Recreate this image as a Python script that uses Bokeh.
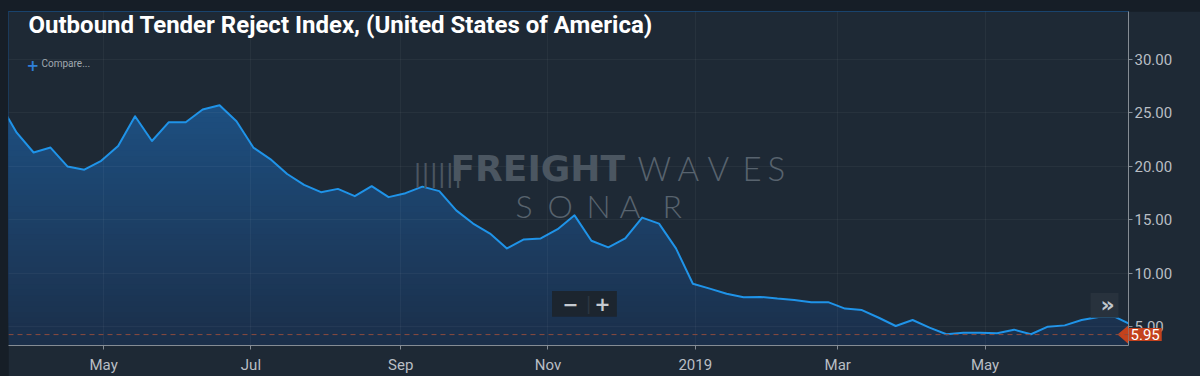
import numpy as np
from datetime import datetime, timedelta
from bokeh.plotting import figure
from bokeh.models import Range1d, LinearAxis, FixedTicker, NumeralTickFormatter, Grid, Span, Label
from bokeh.layouts import column
from bokeh.embed import file_html
from bokeh.resources import INLINE

# ---------------- data ----------------
title_text = "Outbound Tender Reject Index, (United States of America)"
series_start = datetime(2018, 3, 19)  # weekly observations
reject_index = [25.83, 23.12, 21.27, 21.73, 19.97, 19.66, 20.49, 21.88, 24.66, 22.34,
                24.10, 24.10, 25.28, 25.68, 24.19, 21.73, 20.65, 19.26, 18.24, 17.56,
                17.87, 17.19, 18.12, 17.10, 17.47, 18.08, 17.66, 15.86, 14.63, 13.70,
                12.31, 13.15, 13.24, 14.10, 15.40, 13.03, 12.41, 13.24, 15.19, 14.63,
                12.31, 9.01, 8.55, 8.08, 7.75, 7.78, 7.62, 7.50, 7.29, 7.29,
                6.69, 6.55, 5.83, 5.06, 5.62, 4.91, 4.29, 4.44, 4.44, 4.38,
                4.72, 4.29, 5.00, 5.12, 5.62, 5.90, 5.90, 5.13]
x_tick_dates = [datetime(2018, 5, 1), datetime(2018, 7, 1), datetime(2018, 9, 1),
                datetime(2018, 11, 1), datetime(2019, 1, 1), datetime(2019, 3, 1),
                datetime(2019, 5, 1)]
x_tick_labels = ["May", "Jul", "Sep", "Nov", "2019", "Mar", "May"]
y_ticks = [5, 10, 15, 20, 25, 30]
last_value_label = "5.95"
last_value_level = 4.26
view_start = series_start + timedelta(days=3.6)
view_end = series_start + timedelta(days=467.4)
y_min, y_max = 3.24, 34.44

# ---------------- helpers ----------------
EPOCH = datetime(1970, 1, 1)


def to_ms(d):
    return (d - EPOCH).total_seconds() * 1000.0


dates_ms = [to_ms(series_start + timedelta(weeks=i)) for i in range(len(reject_index))]
xs0, xs1 = to_ms(view_start), to_ms(view_end)
x_tick_ms = [to_ms(d) for d in x_tick_dates]

BG = "#1e2935"
DARK = "#161e27"
AXIS = "#858c94"
LABEL = "#b9bec4"
WM = "#4b5661"
WM2 = "#58636e"
MARK = "#c4421d"
FW, FH = 1203, 365          # right border holds axis + value tag panel; overflow is hidden
FRAME_LEFT, FRAME_BOTTOM = 8, 348          # page pixel position of frame
FRAME_W, FRAME_H = 1123, 337
dxp = (xs1 - xs0) / FRAME_W
dyp = (y_max - y_min) / FRAME_H


def px_x(px):
    return xs0 + (px - FRAME_LEFT) * dxp


def px_y(py):
    return y_min + (FRAME_BOTTOM - py) * dyp


def sl(text, px, py, **kw):
    """Label positioned by page pixel (px, py)."""
    return Label(x=px - FRAME_LEFT, y=FRAME_BOTTOM - py, x_units="screen", y_units="screen",
                 text=text, **kw)


p = figure(width=FW, height=FH, x_range=Range1d(xs0, xs1), y_range=Range1d(y_min, y_max),
           x_axis_type=None, y_axis_type=None, output_backend="svg", toolbar_location=None,
           min_border_left=0, min_border_top=0, min_border_right=0, min_border_bottom=28,
           background_fill_color=BG, border_fill_color=BG, outline_line_color=None,
           margin=(11, 0, 0, 8))

# axes
xticker = FixedTicker(ticks=x_tick_ms)
xaxis = LinearAxis(ticker=xticker,
                   major_label_overrides={t: l for t, l in zip(x_tick_ms, x_tick_labels)},
                   axis_line_color=AXIS, major_tick_line_color=AXIS, major_tick_out=4,
                   major_tick_in=0, minor_tick_line_color=None,
                   major_label_text_color=LABEL, major_label_text_font="Roboto",
                   major_label_text_font_size="15px", major_label_standoff=6)
p.add_layout(xaxis, "below")
yticker = FixedTicker(ticks=y_ticks)
yaxis = LinearAxis(ticker=yticker, formatter=NumeralTickFormatter(format="0.00"),
                   axis_line_color=AXIS, major_tick_line_color=AXIS, major_tick_out=4,
                   major_tick_in=0, minor_tick_line_color=None,
                   major_label_text_color=LABEL, major_label_text_font="Roboto",
                   major_label_text_font_size="15px", major_label_standoff=2)
p.add_layout(yaxis, "right")

# last value tag: in a side panel (outside the axis) so it is not clipped by the frame;
# positioned in data units at the frame's right edge
p.add_layout(Label(x=xs1, y=last_value_level, text=last_value_label,
                   text_align="left", text_baseline="middle", text_color="white",
                   text_font="Roboto", text_font_size="15px", background_fill_color=MARK,
                   padding=(2, 1)), "right")

# gradient area (bands, then mask above the series)
n_bands = 60
levels = np.linspace(y_min, y_max, n_bands + 1)[:-1]
c_bot = np.array([27, 47, 74])
c_top = np.array([29, 80, 130])
t = np.clip((levels - y_min) / (26.0 - y_min), 0, 1)
band_colors = ["#%02x%02x%02x" % tuple(int(round(v)) for v in (c_bot + (c_top - c_bot) * ti)) for ti in t]
p.quad(left=xs0, right=xs1, bottom=levels, top=y_max, fill_color=band_colors, line_color=None)
p.varea(x=dates_ms, y1=reject_index, y2=y_max, fill_color=BG)

# grids over fill
p.add_layout(Grid(dimension=0, ticker=xticker, grid_line_color="white", grid_line_alpha=0.045,
                  level="annotation"))
p.add_layout(Grid(dimension=1, ticker=yticker, grid_line_color="white", grid_line_alpha=0.045,
                  level="annotation"))

# watermark
p.add_layout(sl("||||||", 413, 190, text_font="DejaVu Sans", text_font_size="24px",
                text_color=WM))
p.add_layout(sl("FREIGHT", 450, 191, text_font="DejaVu Sans", text_font_style="bold",
                text_font_size="36px", text_color=WM))
for ch, lx in zip("WAVES", [637, 677, 707, 742, 767]):
    p.add_layout(sl(ch, lx, 190, text_font="Lato Light", text_font_size="33px",
                    text_color=WM2))
for ch, lx in zip("SONAR", [515, 547, 586, 619, 662]):
    p.add_layout(sl(ch, lx, 227, text_font="Lato Light", text_font_size="32px",
                    text_color=WM2))

# series line
p.line(dates_ms, reject_index, line_color="#1f93e8", line_width=2, line_join="round")

# last value marker line and arrow
p.add_layout(Span(location=last_value_level, dimension="width", line_color="#8a4b3e",
                  line_dash="5 4", line_width=1))
p.patch([xs1 - 11 * dxp, xs1, xs1],
        [last_value_level, last_value_level + 9.5 * dyp, last_value_level - 9.5 * dyp],
        fill_color=MARK, line_color=None)

# control boxes
p.quad(left=[px_x(553), px_x(1093)], right=[px_x(618), px_x(1121)],
       bottom=[px_y(319), px_y(320)], top=[px_y(293), px_y(295)],
       fill_color=["#1c252f", "#28323d"], line_color=None)

# title and controls
p.add_layout(sl(title_text, 28, 41, text_font="Roboto", text_font_style="bold",
                text_font_size="24px", text_color="white"))
p.add_layout(sl("+", 26, 73, text_font="DejaVu Sans", text_font_style="bold",
                text_font_size="15px", text_color="#2f7fd8"))
p.add_layout(sl("Compare...", 41, 71, text_font="Roboto", text_font_size="10px",
                text_color="#a0a8b0"))
p.add_layout(sl("−", 570, 306, text_align="center", text_baseline="middle",
                text_font="DejaVu Sans", text_font_style="bold", text_font_size="19px",
                text_color="#c5cad0"))
p.add_layout(sl("+", 602, 306, text_align="center", text_baseline="middle",
                text_font="DejaVu Sans", text_font_style="bold", text_font_size="19px",
                text_color="#c5cad0"))
p.add_layout(sl("|", 588, 306, text_align="center", text_baseline="middle",
                text_font="DejaVu Sans", text_font_size="17px", text_color="#2c3742"))
p.add_layout(sl("»", 1107, 307, text_align="center", text_baseline="middle",
                text_font="DejaVu Sans", text_font_style="bold", text_font_size="22px",
                text_color="#c0c6cc"))

layout = column(p, width=1200, height=376,
                styles={"background-color": DARK, "overflow": "hidden"})
open("out.html", "w").write(file_html(layout, INLINE))
